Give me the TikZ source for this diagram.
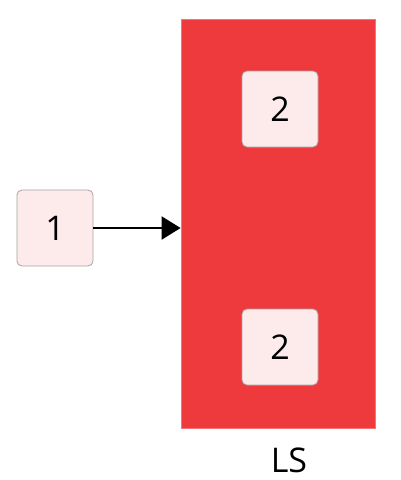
\documentclass[tikz,border=0pt]{standalone}
\usepackage{fontspec}
\setmainfont{Open Sans}
\usetikzlibrary{arrows.meta}
\definecolor{lsred}{HTML}{EE3A3D}
\definecolor{boxfill}{HTML}{FDEBEC}
\definecolor{boxline}{HTML}{A8A0A0}
\begin{document}
\begin{tikzpicture}[x=1pt,y=-1pt,
  itembox/.style={draw=boxline,line width=0.8pt,fill=boxfill,rounded corners=5pt,minimum width=76pt,minimum height=76pt,inner sep=0pt,font=\fontsize{34}{38}\selectfont},
  conn/.style={line width=2.2pt,-{Triangle[length=19pt,width=23pt]}}]
\useasboundingbox (0,0) rectangle (400,480);
\node[draw=lsred!70!white,line width=0.8pt,fill=lsred,minimum width=194pt,minimum height=409pt,inner sep=0pt] (ls) at (278,223.5) {};
\node[font=\fontsize{34}{38}\selectfont] (lslabel) at (289,460) {LS};
\node[itembox] (a) at (55,228) {1};
\node[itembox] (b1) at (280,109) {2};
\node[itembox] (b2) at (280,347) {2};
\draw[conn] (a.east) -- (ls.west |- a.east);
\end{tikzpicture}
\end{document}
